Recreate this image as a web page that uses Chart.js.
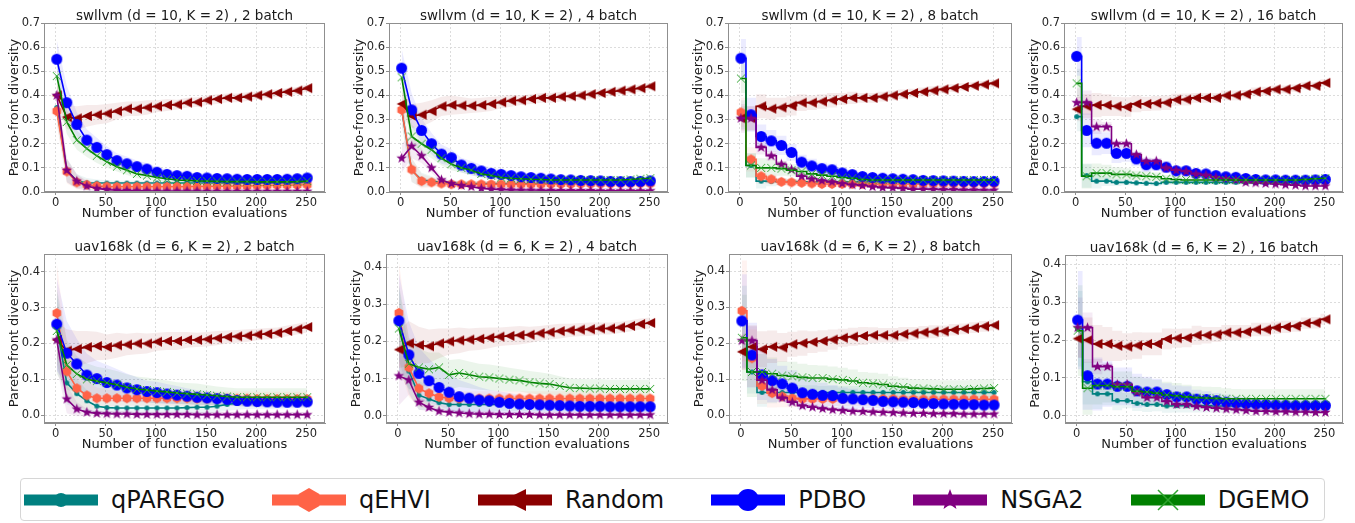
<!DOCTYPE html>
<html>
<head>
<meta charset="utf-8">
<script src="https://cdn.jsdelivr.net/npm/chart.js@4.4.0/dist/chart.umd.min.js"></script>
<style>
body { margin: 0; background: #fff; width: 1355px; height: 523px; position: relative; overflow: hidden; font-family: "DejaVu Sans", sans-serif; }
canvas.panel { position: absolute; }
#legend { position: absolute; left: 20px; top: 478px; width: 1305px; height: 43px; box-sizing: border-box; border: 1px solid #d6d6d6; border-radius: 4px; display: flex; align-items: center; padding-left: 3px; }
.item { display: flex; align-items: center; margin-right: 47px; }
.item span { font-size: 24px; margin-left: 13px; color: #111; white-space: nowrap; }
</style>
</head>
<body>
<div id="legend"></div>
<script>
"use strict";
// Evaluaciones donde hay marcadores
const xEvals = [1, 11, 21, 31, 41, 51, 61, 71, 81, 91, 101, 111, 121, 131, 141, 151, 161, 171, 181, 191, 201, 211, 221, 231, 241, 251];
const xTicks = [0, 50, 100, 150, 200, 250];
const swYTicks = [0, 0.1, 0.2, 0.3, 0.4, 0.5, 0.6, 0.7];
const uavYTicks = [0, 0.1, 0.2, 0.3, 0.4];
const methods = ["qPAREGO", "qEHVI", "Random", "PDBO", "NSGA2", "DGEMO"];
const titles = [
    "swllvm (d = 10, K = 2) , 2 batch", "swllvm (d = 10, K = 2) , 4 batch",
    "swllvm (d = 10, K = 2) , 8 batch", "swllvm (d = 10, K = 2) , 16 batch",
    "uav168k (d = 6, K = 2) , 2 batch", "uav168k (d = 6, K = 2) , 4 batch",
    "uav168k (d = 6, K = 2) , 8 batch", "uav168k (d = 6, K = 2) , 16 batch"
];

// swllvm, 2 batch
const sw2Qparego = [0.35, 0.09, 0.045, 0.038, 0.037, 0.037, 0.037, 0.037, 0.037, 0.037, 0.037, 0.037, 0.037, 0.037, 0.037, 0.037, 0.037, 0.037, 0.038, 0.038, 0.038, 0.038, 0.038, 0.039, 0.039, 0.04];
const sw2Qehvi = [0.335, 0.085, 0.04, 0.03, 0.025, 0.023, 0.022, 0.022, 0.022, 0.022, 0.022, 0.022, 0.022, 0.022, 0.023, 0.023, 0.024, 0.024, 0.025, 0.025, 0.026, 0.027, 0.028, 0.028, 0.029, 0.03];
const sw2Random = [0.40, 0.31, 0.305, 0.315, 0.32, 0.325, 0.335, 0.345, 0.345, 0.35, 0.355, 0.36, 0.362, 0.37, 0.372, 0.38, 0.385, 0.39, 0.39, 0.395, 0.40, 0.405, 0.41, 0.415, 0.42, 0.43];
const sw2Pdbo = [0.55, 0.37, 0.28, 0.215, 0.185, 0.155, 0.13, 0.117, 0.105, 0.095, 0.082, 0.073, 0.068, 0.065, 0.06, 0.058, 0.056, 0.055, 0.053, 0.052, 0.052, 0.052, 0.052, 0.053, 0.055, 0.058];
const sw2Nsga2 = [0.40, 0.09, 0.045, 0.025, 0.015, 0.01, 0.007, 0.006, 0.005, 0.005, 0.004, 0.004, 0.004, 0.004, 0.004, 0.003, 0.003, 0.003, 0.003, 0.003, 0.003, 0.003, 0.003, 0.003, 0.003, 0.003];
const sw2Dgemo = [0.48, 0.29, 0.215, 0.18, 0.15, 0.125, 0.105, 0.09, 0.075, 0.068, 0.06, 0.055, 0.05, 0.048, 0.046, 0.045, 0.044, 0.043, 0.043, 0.043, 0.042, 0.042, 0.042, 0.042, 0.043, 0.045];
// swllvm, 4 batch
const sw4Qparego = [0.34, 0.09, 0.05, 0.045, 0.04, 0.037, 0.036, 0.035, 0.035, 0.035, 0.035, 0.035, 0.035, 0.035, 0.036, 0.036, 0.037, 0.037, 0.038, 0.038, 0.038, 0.039, 0.039, 0.04, 0.04, 0.04];
const sw4Qehvi = [0.34, 0.093, 0.045, 0.04, 0.035, 0.032, 0.032, 0.032, 0.032, 0.032, 0.032, 0.032, 0.032, 0.032, 0.032, 0.033, 0.033, 0.033, 0.034, 0.034, 0.034, 0.034, 0.035, 0.035, 0.035, 0.035];
const sw4Random = [0.365, 0.315, 0.32, 0.335, 0.355, 0.36, 0.358, 0.357, 0.36, 0.365, 0.372, 0.378, 0.38, 0.385, 0.39, 0.39, 0.395, 0.397, 0.40, 0.405, 0.41, 0.415, 0.42, 0.425, 0.43, 0.438];
const sw4Pdbo = [0.513, 0.34, 0.255, 0.2, 0.157, 0.142, 0.112, 0.098, 0.087, 0.077, 0.073, 0.068, 0.063, 0.06, 0.057, 0.054, 0.051, 0.05, 0.048, 0.047, 0.046, 0.044, 0.043, 0.043, 0.044, 0.046];
const sw4Nsga2 = [0.14, 0.19, 0.15, 0.1, 0.05, 0.035, 0.027, 0.022, 0.015, 0.012, 0.01, 0.009, 0.008, 0.008, 0.007, 0.007, 0.006, 0.006, 0.006, 0.006, 0.005, 0.005, 0.005, 0.005, 0.005, 0.005];
const sw4Dgemo = [0.475, 0.23, 0.2, 0.175, 0.14, 0.115, 0.1, 0.09, 0.075, 0.068, 0.06, 0.057, 0.055, 0.053, 0.052, 0.05, 0.05, 0.05, 0.05, 0.05, 0.05, 0.05, 0.05, 0.052, 0.055, 0.057];
// swllvm, 8 batch
const sw8Qparego = [0.32, 0.11, 0.045, 0.044, 0.043, 0.043, 0.042, 0.042, 0.042, 0.042, 0.042, 0.042, 0.042, 0.042, 0.042, 0.042, 0.042, 0.041, 0.041, 0.041, 0.041, 0.04, 0.04, 0.04, 0.04, 0.04];
const sw8Qehvi = [0.33, 0.135, 0.065, 0.053, 0.042, 0.04, 0.038, 0.035, 0.033, 0.033, 0.033, 0.033, 0.033, 0.033, 0.033, 0.033, 0.033, 0.033, 0.034, 0.034, 0.034, 0.034, 0.035, 0.035, 0.035, 0.035];
const sw8Random = [0.305, 0.305, 0.355, 0.345, 0.35, 0.357, 0.37, 0.37, 0.375, 0.38, 0.385, 0.39, 0.39, 0.39, 0.395, 0.40, 0.405, 0.41, 0.415, 0.42, 0.425, 0.43, 0.435, 0.44, 0.445, 0.45];
const sw8Pdbo = [0.554, 0.32, 0.23, 0.212, 0.193, 0.164, 0.124, 0.108, 0.097, 0.092, 0.079, 0.072, 0.064, 0.06, 0.057, 0.055, 0.053, 0.051, 0.048, 0.047, 0.046, 0.045, 0.044, 0.043, 0.043, 0.044];
const sw8Nsga2 = [0.305, 0.305, 0.185, 0.15, 0.115, 0.093, 0.065, 0.055, 0.047, 0.042, 0.035, 0.03, 0.027, 0.022, 0.018, 0.017, 0.015, 0.012, 0.012, 0.011, 0.01, 0.01, 0.009, 0.009, 0.008, 0.008];
const sw8Dgemo = [0.47, 0.11, 0.1, 0.1, 0.097, 0.09, 0.085, 0.075, 0.07, 0.065, 0.06, 0.057, 0.052, 0.05, 0.05, 0.05, 0.05, 0.05, 0.05, 0.05, 0.05, 0.05, 0.05, 0.05, 0.05, 0.05];
// swllvm, 16 batch (sin qEHVI)
const sw16Qparego = [0.312, 0.068, 0.045, 0.045, 0.04, 0.04, 0.038, 0.036, 0.035, 0.04, 0.04, 0.04, 0.04, 0.04, 0.04, 0.04, 0.04, 0.04, 0.04, 0.04, 0.04, 0.04, 0.04, 0.04, 0.04, 0.04];
const sw16Qehvi = [];
const sw16Random = [0.343, 0.355, 0.36, 0.36, 0.355, 0.352, 0.365, 0.365, 0.368, 0.37, 0.382, 0.383, 0.39, 0.39, 0.39, 0.40, 0.40, 0.405, 0.415, 0.418, 0.425, 0.425, 0.43, 0.44, 0.44, 0.452];
const sw16Pdbo = [0.562, 0.255, 0.202, 0.202, 0.16, 0.16, 0.137, 0.113, 0.113, 0.103, 0.088, 0.088, 0.077, 0.075, 0.068, 0.063, 0.061, 0.056, 0.052, 0.05, 0.05, 0.049, 0.049, 0.049, 0.05, 0.052];
const sw16Nsga2 = [0.37, 0.37, 0.27, 0.27, 0.2, 0.2, 0.155, 0.128, 0.128, 0.1, 0.09, 0.085, 0.075, 0.07, 0.06, 0.055, 0.05, 0.04, 0.038, 0.035, 0.033, 0.03, 0.028, 0.025, 0.025, 0.025];
const sw16Dgemo = [0.45, 0.065, 0.078, 0.078, 0.073, 0.073, 0.068, 0.065, 0.063, 0.055, 0.052, 0.05, 0.05, 0.05, 0.05, 0.05, 0.05, 0.05, 0.05, 0.05, 0.05, 0.05, 0.05, 0.052, 0.055, 0.057];
// uav168k, 2 batch
const uav2Qparego = [0.245, 0.09, 0.06, 0.04, 0.025, 0.021, 0.02, 0.02, 0.02, 0.02, 0.02, 0.02, 0.02, 0.021, 0.022, 0.022, 0.025, 0.03, 0.033, 0.035, 0.036, 0.036, 0.036, 0.037, 0.037, 0.037];
const uav2Qehvi = [0.285, 0.122, 0.075, 0.055, 0.047, 0.047, 0.047, 0.047, 0.047, 0.047, 0.047, 0.047, 0.047, 0.047, 0.046, 0.046, 0.046, 0.046, 0.046, 0.046, 0.045, 0.045, 0.045, 0.045, 0.045, 0.045];
const uav2Random = [0.21, 0.18, 0.185, 0.19, 0.193, 0.19, 0.195, 0.197, 0.2, 0.2, 0.205, 0.207, 0.207, 0.21, 0.21, 0.212, 0.215, 0.218, 0.22, 0.222, 0.225, 0.227, 0.23, 0.235, 0.24, 0.246];
const uav2Pdbo = [0.254, 0.173, 0.143, 0.112, 0.102, 0.091, 0.084, 0.076, 0.071, 0.066, 0.063, 0.059, 0.056, 0.053, 0.05, 0.048, 0.046, 0.044, 0.041, 0.039, 0.038, 0.037, 0.036, 0.036, 0.036, 0.037];
const uav2Nsga2 = [0.21, 0.045, 0.017, 0.008, 0.005, 0.004, 0.003, 0.003, 0.002, 0.002, 0.002, 0.002, 0.002, 0.002, 0.001, 0.001, 0.001, 0.001, 0.001, 0.001, 0.001, 0.001, 0.001, 0.001, 0.001, 0.001];
const uav2Dgemo = [0.235, 0.14, 0.115, 0.1, 0.095, 0.09, 0.085, 0.078, 0.073, 0.07, 0.067, 0.065, 0.062, 0.06, 0.058, 0.056, 0.054, 0.052, 0.05, 0.05, 0.05, 0.05, 0.05, 0.05, 0.05, 0.05];
// uav168k, 4 batch
const uav4Qparego = [0.25, 0.12, 0.055, 0.045, 0.035, 0.03, 0.03, 0.03, 0.03, 0.03, 0.03, 0.03, 0.03, 0.03, 0.029, 0.029, 0.029, 0.029, 0.028, 0.028, 0.028, 0.028, 0.028, 0.028, 0.028, 0.028];
const uav4Qehvi = [0.277, 0.13, 0.073, 0.06, 0.05, 0.047, 0.046, 0.046, 0.046, 0.046, 0.046, 0.046, 0.046, 0.046, 0.046, 0.046, 0.046, 0.046, 0.046, 0.046, 0.046, 0.046, 0.046, 0.046, 0.046, 0.046];
const uav4Random = [0.178, 0.195, 0.19, 0.187, 0.195, 0.2, 0.203, 0.205, 0.207, 0.21, 0.213, 0.215, 0.217, 0.218, 0.222, 0.225, 0.228, 0.23, 0.232, 0.233, 0.235, 0.235, 0.238, 0.242, 0.247, 0.25];
const uav4Pdbo = [0.256, 0.164, 0.114, 0.094, 0.076, 0.063, 0.051, 0.047, 0.042, 0.04, 0.036, 0.033, 0.031, 0.03, 0.029, 0.028, 0.027, 0.026, 0.025, 0.025, 0.025, 0.024, 0.024, 0.024, 0.024, 0.024];
const uav4Nsga2 = [0.107, 0.096, 0.036, 0.022, 0.012, 0.009, 0.007, 0.005, 0.004, 0.004, 0.003, 0.003, 0.003, 0.003, 0.002, 0.002, 0.002, 0.002, 0.002, 0.002, 0.002, 0.002, 0.002, 0.002, 0.002, 0.002];
const uav4Dgemo = [0.235, 0.14, 0.13, 0.125, 0.13, 0.11, 0.115, 0.11, 0.105, 0.103, 0.1, 0.097, 0.095, 0.09, 0.087, 0.085, 0.08, 0.075, 0.074, 0.073, 0.073, 0.072, 0.072, 0.072, 0.072, 0.072];
// uav168k, 8 batch
const uav8Qparego = [0.26, 0.12, 0.063, 0.063, 0.063, 0.063, 0.063, 0.063, 0.063, 0.063, 0.063, 0.063, 0.063, 0.063, 0.063, 0.063, 0.063, 0.063, 0.063, 0.063, 0.063, 0.063, 0.063, 0.063, 0.063, 0.063];
const uav8Qehvi = [0.29, 0.158, 0.081, 0.061, 0.052, 0.047, 0.045, 0.045, 0.045, 0.045, 0.045, 0.045, 0.045, 0.045, 0.045, 0.045, 0.044, 0.044, 0.044, 0.044, 0.044, 0.044, 0.044, 0.044, 0.044, 0.044];
const uav8Random = [0.176, 0.19, 0.183, 0.19, 0.188, 0.197, 0.2, 0.203, 0.206, 0.21, 0.215, 0.218, 0.22, 0.222, 0.222, 0.222, 0.225, 0.227, 0.23, 0.232, 0.233, 0.237, 0.24, 0.243, 0.247, 0.25];
const uav8Pdbo = [0.262, 0.167, 0.112, 0.096, 0.087, 0.075, 0.062, 0.058, 0.055, 0.054, 0.047, 0.045, 0.043, 0.041, 0.038, 0.037, 0.036, 0.035, 0.033, 0.032, 0.031, 0.03, 0.03, 0.029, 0.028, 0.028];
const uav8Nsga2 = [0.207, 0.207, 0.097, 0.07, 0.048, 0.036, 0.026, 0.022, 0.018, 0.015, 0.013, 0.011, 0.01, 0.009, 0.008, 0.007, 0.006, 0.005, 0.005, 0.004, 0.004, 0.004, 0.003, 0.003, 0.003, 0.003];
const uav8Dgemo = [0.215, 0.12, 0.12, 0.115, 0.11, 0.108, 0.105, 0.103, 0.103, 0.1, 0.098, 0.095, 0.09, 0.088, 0.085, 0.08, 0.078, 0.075, 0.074, 0.073, 0.072, 0.072, 0.072, 0.073, 0.074, 0.075];
// uav168k, 16 batch (sin qEHVI)
const uav16Qparego = [0.23, 0.09, 0.058, 0.058, 0.04, 0.04, 0.033, 0.03, 0.03, 0.026, 0.027, 0.027, 0.027, 0.027, 0.026, 0.026, 0.026, 0.026, 0.026, 0.025, 0.025, 0.025, 0.025, 0.025, 0.025, 0.025];
const uav16Qehvi = [];
const uav16Random = [0.204, 0.2, 0.19, 0.19, 0.185, 0.183, 0.186, 0.19, 0.19, 0.203, 0.205, 0.206, 0.213, 0.213, 0.215, 0.22, 0.22, 0.222, 0.228, 0.228, 0.233, 0.235, 0.237, 0.245, 0.246, 0.255];
const uav16Pdbo = [0.253, 0.106, 0.084, 0.084, 0.078, 0.078, 0.066, 0.063, 0.063, 0.056, 0.05, 0.05, 0.044, 0.043, 0.04, 0.036, 0.034, 0.032, 0.031, 0.03, 0.029, 0.028, 0.027, 0.027, 0.027, 0.027];
const uav16Nsga2 = [0.233, 0.233, 0.13, 0.13, 0.083, 0.083, 0.062, 0.048, 0.048, 0.038, 0.03, 0.03, 0.025, 0.022, 0.02, 0.018, 0.016, 0.014, 0.012, 0.012, 0.011, 0.011, 0.01, 0.01, 0.009, 0.009];
const uav16Dgemo = [0.225, 0.073, 0.08, 0.08, 0.077, 0.077, 0.065, 0.063, 0.06, 0.055, 0.053, 0.05, 0.048, 0.047, 0.046, 0.045, 0.045, 0.045, 0.045, 0.045, 0.045, 0.045, 0.045, 0.045, 0.045, 0.045];

// Ancho de las bandas sombreadas (+/-), leído a ojo
const swBandQparego = [0.06, 0.05, 0.03, 0.02, 0.015, 0.012, 0.01, 0.01, 0.01, 0.01, 0.01, 0.01, 0.01, 0.01, 0.01, 0.01, 0.01, 0.01, 0.01, 0.01, 0.01, 0.01, 0.01, 0.01, 0.01, 0.01];
const swBandQehvi = [0.06, 0.05, 0.03, 0.02, 0.015, 0.012, 0.01, 0.01, 0.01, 0.01, 0.01, 0.01, 0.01, 0.01, 0.01, 0.01, 0.01, 0.01, 0.01, 0.01, 0.01, 0.01, 0.01, 0.01, 0.01, 0.01];
const swBandRandom = [0.05, 0.05, 0.05, 0.045, 0.04, 0.04, 0.035, 0.03, 0.03, 0.03, 0.025, 0.025, 0.02, 0.02, 0.02, 0.02, 0.02, 0.018, 0.018, 0.018, 0.016, 0.016, 0.015, 0.015, 0.015, 0.015];
const swBandPdbo = [0.08, 0.07, 0.05, 0.045, 0.04, 0.035, 0.03, 0.03, 0.025, 0.025, 0.02, 0.02, 0.018, 0.017, 0.016, 0.015, 0.015, 0.015, 0.014, 0.014, 0.014, 0.014, 0.014, 0.014, 0.014, 0.014];
const swBandNsga2 = [0.06, 0.05, 0.03, 0.02, 0.012, 0.01, 0.008, 0.006, 0.005, 0.005, 0.004, 0.004, 0.004, 0.004, 0.004, 0.004, 0.004, 0.004, 0.004, 0.004, 0.004, 0.004, 0.004, 0.004, 0.004, 0.004];
const swBandDgemo = [0.06, 0.05, 0.04, 0.035, 0.03, 0.025, 0.02, 0.02, 0.018, 0.015, 0.015, 0.012, 0.012, 0.01, 0.01, 0.01, 0.01, 0.01, 0.01, 0.01, 0.01, 0.01, 0.01, 0.01, 0.01, 0.01];
const uavBandQparego = [0.1, 0.06, 0.04, 0.03, 0.025, 0.02, 0.02, 0.02, 0.018, 0.018, 0.018, 0.018, 0.018, 0.018, 0.018, 0.018, 0.018, 0.018, 0.018, 0.018, 0.018, 0.018, 0.018, 0.018, 0.018, 0.018];
const uavBandQehvi = [0.14, 0.08, 0.05, 0.04, 0.03, 0.025, 0.02, 0.02, 0.02, 0.02, 0.02, 0.02, 0.02, 0.02, 0.02, 0.02, 0.02, 0.02, 0.02, 0.02, 0.02, 0.02, 0.02, 0.02, 0.02, 0.02];
const uavBandRandom = [0.05, 0.06, 0.05, 0.045, 0.04, 0.035, 0.035, 0.03, 0.03, 0.028, 0.025, 0.025, 0.025, 0.022, 0.02, 0.02, 0.02, 0.018, 0.018, 0.018, 0.016, 0.016, 0.015, 0.015, 0.015, 0.015];
const uavBandPdbo = [0.13, 0.09, 0.07, 0.06, 0.05, 0.05, 0.045, 0.04, 0.035, 0.03, 0.03, 0.028, 0.025, 0.022, 0.02, 0.02, 0.018, 0.018, 0.016, 0.016, 0.015, 0.015, 0.015, 0.015, 0.015, 0.015];
const uavBandNsga2 = [0.08, 0.04, 0.02, 0.01, 0.005, 0.003, 0.003, 0.003, 0.003, 0.003, 0.003, 0.003, 0.003, 0.003, 0.003, 0.003, 0.003, 0.003, 0.003, 0.003, 0.003, 0.003, 0.003, 0.003, 0.003, 0.003];
const uavBandDgemo = [0.12, 0.07, 0.05, 0.045, 0.04, 0.04, 0.038, 0.036, 0.035, 0.035, 0.034, 0.032, 0.03, 0.03, 0.03, 0.028, 0.026, 0.025, 0.025, 0.025, 0.025, 0.025, 0.025, 0.025, 0.025, 0.025];

// Estilos por método
const methodStyle = {
    qPAREGO: { color: "#008080", marker: "circle", size: 2.5, legendSize: 7 },
    qEHVI: { color: "#FF6347", marker: "hexagon", size: 5, legendSize: 12 },
    Random: { color: "#8B0000", marker: "triLeft", size: 5, legendSize: 11 },
    PDBO: { color: "#0000FF", marker: "circle", size: 5.5, legendSize: 11 },
    NSGA2: { color: "#800080", marker: "star", size: 5.5, legendSize: 11 },
    DGEMO: { color: "#008000", markerColor: "#2fa52f", marker: "x", size: 4, legendSize: 10 }
};

const swBands = [swBandQparego, swBandQehvi, swBandRandom, swBandPdbo, swBandNsga2, swBandDgemo];
const uavBands = [uavBandQparego, uavBandQehvi, uavBandRandom, uavBandPdbo, uavBandNsga2, uavBandDgemo];

// Paneles: caja del área de trazado en píxeles de la página [izq, arriba, der, abajo]
const panels = [
    { title: titles[0], series: [sw2Qparego, sw2Qehvi, sw2Random, sw2Pdbo, sw2Nsga2, sw2Dgemo], bands: swBands, stepped: false, yMin: 0, yMax: 0.7, yTicks: swYTicks, box: [44, 23, 325, 192] },
    { title: titles[1], series: [sw4Qparego, sw4Qehvi, sw4Random, sw4Pdbo, sw4Nsga2, sw4Dgemo], bands: swBands, stepped: false, yMin: 0, yMax: 0.7, yTicks: swYTicks, box: [389, 23, 668, 192] },
    { title: titles[2], series: [sw8Qparego, sw8Qehvi, sw8Random, sw8Pdbo, sw8Nsga2, sw8Dgemo], bands: swBands, stepped: "middle", yMin: 0, yMax: 0.7, yTicks: swYTicks, box: [728, 23, 1012, 192] },
    { title: titles[3], series: [sw16Qparego, sw16Qehvi, sw16Random, sw16Pdbo, sw16Nsga2, sw16Dgemo], bands: swBands, stepped: "middle", yMin: 0, yMax: 0.7, yTicks: swYTicks, box: [1064, 23, 1343, 192] },
    { title: titles[4], series: [uav2Qparego, uav2Qehvi, uav2Random, uav2Pdbo, uav2Nsga2, uav2Dgemo], bands: uavBands, stepped: false, yMin: -0.022, yMax: 0.45, yTicks: uavYTicks, box: [44, 254, 325, 423] },
    { title: titles[5], series: [uav4Qparego, uav4Qehvi, uav4Random, uav4Pdbo, uav4Nsga2, uav4Dgemo], bands: uavBands, stepped: false, yMin: -0.02, yMax: 0.436, yTicks: uavYTicks, box: [386, 254, 668, 423] },
    { title: titles[6], series: [uav8Qparego, uav8Qehvi, uav8Random, uav8Pdbo, uav8Nsga2, uav8Dgemo], bands: uavBands, stepped: "middle", yMin: -0.022, yMax: 0.448, yTicks: uavYTicks, box: [729, 254, 1012, 423] },
    { title: titles[7], series: [uav16Qparego, uav16Qehvi, uav16Random, uav16Pdbo, uav16Nsga2, uav16Dgemo], bands: uavBands, stepped: "middle", yMin: -0.019, yMax: 0.425, yTicks: uavYTicks, box: [1065, 255, 1343, 423] }
];
const xMin = -11.75;
const xMax = 268.75;

Chart.defaults.font.family = "'DejaVu Sans', sans-serif";

function hexA(hex, a) {
    const n = parseInt(hex.slice(1), 16);
    return `rgba(${(n >> 16) & 255}, ${(n >> 8) & 255}, ${n & 255}, ${a})`;
}

function drawMarker(ctx, kind, cx, cy, r, color, lw) {
    ctx.save();
    ctx.fillStyle = color;
    ctx.strokeStyle = color;
    ctx.lineWidth = lw || 1;
    ctx.beginPath();
    if (kind === "circle") {
        ctx.arc(cx, cy, r, 0, Math.PI * 2);
        ctx.fill();
    } else if (kind === "hexagon") {
        for (let i = 0; i < 6; i++) {
            const a = (-90 + 60 * i) * Math.PI / 180;
            const px = cx + r * Math.cos(a), py = cy + r * Math.sin(a);
            if (i === 0) ctx.moveTo(px, py); else ctx.lineTo(px, py);
        }
        ctx.closePath();
        ctx.fill();
    } else if (kind === "triLeft") {
        ctx.moveTo(cx - r, cy);
        ctx.lineTo(cx + r, cy - r);
        ctx.lineTo(cx + r, cy + r);
        ctx.closePath();
        ctx.fill();
    } else if (kind === "star") {
        for (let i = 0; i < 10; i++) {
            const rr = i % 2 ? r * 0.42 : r;
            const a = (-90 + 36 * i) * Math.PI / 180;
            const px = cx + rr * Math.cos(a), py = cy + rr * Math.sin(a);
            if (i === 0) ctx.moveTo(px, py); else ctx.lineTo(px, py);
        }
        ctx.closePath();
        ctx.fill();
    } else if (kind === "x") {
        ctx.moveTo(cx - r, cy - r);
        ctx.lineTo(cx + r, cy + r);
        ctx.moveTo(cx + r, cy - r);
        ctx.lineTo(cx - r, cy + r);
        ctx.stroke();
    }
    ctx.restore();
}

function markerImage(st) {
    const c = document.createElement("canvas");
    const s = Math.ceil(st.size * 2 + 4);
    c.width = s;
    c.height = s;
    drawMarker(c.getContext("2d"), st.marker, s / 2, s / 2, st.size, st.markerColor || st.color, 1);
    return c;
}

// Títulos, etiquetas de ejes y marco
const panelText = {
    id: "panelText",
    afterDraw(chart, args, opts) {
        const ctx = chart.ctx;
        const a = chart.chartArea;
        ctx.save();
        ctx.strokeStyle = "#8f8f8f";
        ctx.lineWidth = 1;
        ctx.strokeRect(a.left + 0.5, a.top + 0.5, a.right - a.left - 1, a.bottom - a.top - 1);
        ctx.fillStyle = "#1a1a1a";
        ctx.textAlign = "center";
        ctx.textBaseline = "middle";
        ctx.font = "13.5px 'DejaVu Sans'";
        ctx.fillText(opts.title, (a.left + a.right) / 2, a.top - 7);
        ctx.font = "13px 'DejaVu Sans'";
        ctx.fillText("Number of function evaluations", (a.left + a.right) / 2, a.bottom + 22);
        ctx.translate(a.left - 29, (a.top + a.bottom) / 2);
        ctx.rotate(-Math.PI / 2);
        ctx.fillText("Pareto-front diversity", 0, 0);
        ctx.restore();
    }
};

const axisCommon = {
    type: "linear",
    ticks: { color: "#262626", font: { size: 11.5 }, padding: 1, maxRotation: 0 },
    grid: { color: "#dcdcdc", lineWidth: 1, tickColor: "#8f8f8f", tickLength: 3 },
    border: { color: "#8f8f8f", dash: [2, 2] }
};

panels.forEach((p) => {
    const [l, t, r, b] = p.box;
    const cv = document.createElement("canvas");
    cv.className = "panel";
    cv.width = r - l + 52;
    cv.height = b - t + 55;
    cv.style.left = (l - 44) + "px";
    cv.style.top = (t - 23) + "px";
    document.body.appendChild(cv);

    const datasets = [];
    p.series.forEach((vals, i) => {
        if (!vals.length) return;
        const st = methodStyle[methods[i]];
        const spread = p.bands[i];
        datasets.push({
            data: xEvals.map((x, j) => ({ x, y: vals[j] - spread[j] })),
            borderWidth: 0, pointRadius: 0, fill: false, stepped: p.stepped, order: 100
        });
        datasets.push({
            data: xEvals.map((x, j) => ({ x, y: vals[j] + spread[j] })),
            borderWidth: 0, pointRadius: 0, fill: "-1", backgroundColor: hexA(st.color, 0.08),
            stepped: p.stepped, order: 100
        });
        datasets.push({
            label: methods[i],
            data: xEvals.map((x, j) => ({ x, y: vals[j] })),
            borderColor: st.color,
            borderWidth: 1.6,
            pointStyle: markerImage(st),
            pointRadius: st.size,
            fill: false,
            stepped: p.stepped,
            order: 6 - i
        });
    });

    new Chart(cv, {
        type: "line",
        data: { datasets },
        options: {
            responsive: false,
            animation: false,
            devicePixelRatio: 1,
            layout: { padding: { left: 14, top: 23, right: 8, bottom: 0 } },
            elements: { line: { tension: 0 } },
            plugins: {
                legend: { display: false },
                tooltip: { enabled: false },
                panelText: { title: p.title }
            },
            scales: {
                x: Object.assign({}, axisCommon, {
                    min: xMin, max: xMax,
                    afterBuildTicks: (s) => { s.ticks = xTicks.map(v => ({ value: v })); },
                    afterFit: (s) => { s.height = 32; }
                }),
                y: Object.assign({}, axisCommon, {
                    min: p.yMin, max: p.yMax,
                    ticks: Object.assign({}, axisCommon.ticks, { callback: (v) => Number(v).toFixed(1) }),
                    afterBuildTicks: (s) => { s.ticks = p.yTicks.map(v => ({ value: v })); },
                    afterFit: (s) => { s.width = 30; }
                })
            }
        },
        plugins: [panelText]
    });
});

// Leyenda común abajo
const legend = document.getElementById("legend");
methods.forEach((m) => {
    const st = methodStyle[m];
    const item = document.createElement("div");
    item.className = "item";
    const icon = document.createElement("canvas");
    icon.width = 74;
    icon.height = 28;
    const ictx = icon.getContext("2d");
    ictx.fillStyle = st.color;
    ictx.fillRect(0, 14 - 5.5, 74, 11);
    drawMarker(ictx, st.marker, 37, 14, st.legendSize, st.markerColor || st.color, 1.5);
    const label = document.createElement("span");
    label.textContent = m;
    item.appendChild(icon);
    item.appendChild(label);
    legend.appendChild(item);
});
</script>
</body>
</html>
